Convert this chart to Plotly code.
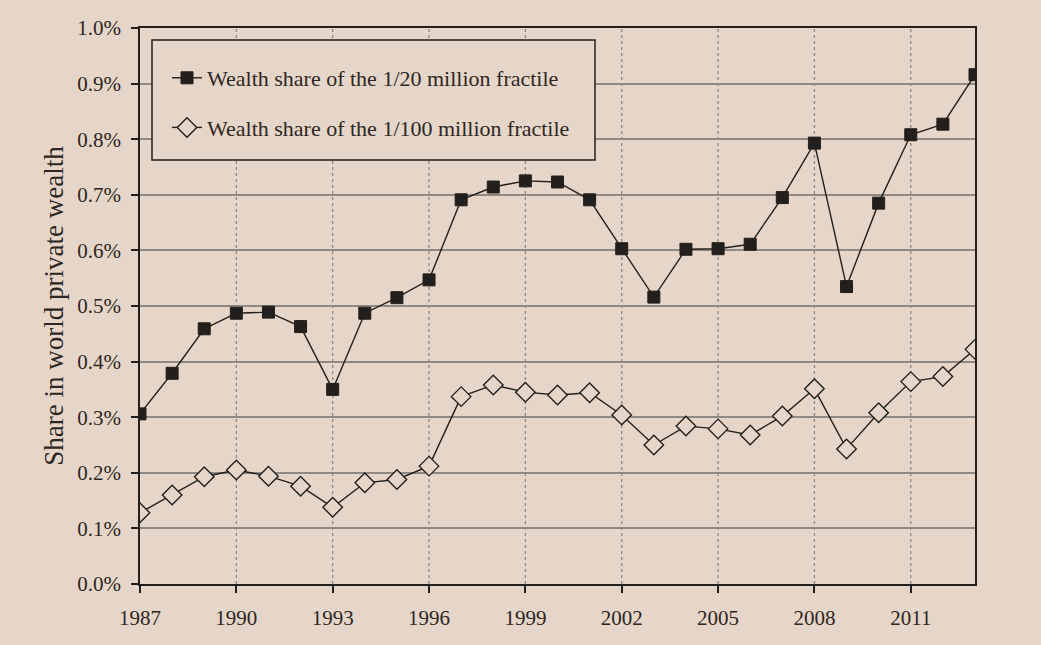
import plotly.graph_objects as go

years = list(range(1987, 2014))

share_1_20m = [0.306, 0.379, 0.459, 0.487, 0.489, 0.463, 0.350, 0.487, 0.515, 0.547,
               0.691, 0.714, 0.725, 0.723, 0.691, 0.603, 0.516, 0.602, 0.603, 0.611,
               0.695, 0.793, 0.535, 0.685, 0.808, 0.827, 0.916]

share_1_100m = [0.128, 0.160, 0.193, 0.205, 0.194, 0.176, 0.138, 0.182, 0.188, 0.212,
                0.337, 0.358, 0.345, 0.340, 0.344, 0.304, 0.250, 0.284, 0.279, 0.268,
                0.302, 0.351, 0.243, 0.308, 0.364, 0.373, 0.422]

x_ticks = [1987, 1990, 1993, 1996, 1999, 2002, 2005, 2008, 2011]
y_ticks = [0.0, 0.1, 0.2, 0.3, 0.4, 0.5, 0.6, 0.7, 0.8, 0.9, 1.0]
y_tick_labels = [f"{v:.1f}%" for v in y_ticks]

BG = "#e6d6c9"
INK = "#231f1c"
TEXT = "#2e2622"
GRID = "#8e8984"
FONT = "Liberation Serif"

fig = go.Figure()

# dotted vertical guides every three years
for yr in x_ticks[1:]:
    fig.add_shape(type="line", xref="x", yref="paper", x0=yr, x1=yr, y0=0, y1=1,
                  line=dict(color=GRID, width=1.3, dash="dot"), layer="below")

# legend frame, filled so the grid stops at its edge
fig.add_shape(type="rect", xref="paper", yref="paper",
              x0=(152 - 140) / 835, x1=(595 - 140) / 835,
              y0=(584 - 160) / 556, y1=(584 - 40) / 556,
              line=dict(color=INK, width=1.5), fillcolor=BG, layer="above")

fig.add_trace(go.Scatter(
    x=years, y=share_1_20m, mode="lines+markers",
    name="Wealth share of the 1/20 million fractile", legendgroup="a",
    line=dict(color=INK, width=1.4),
    marker=dict(symbol="square", size=12, color=INK, line=dict(color=INK, width=1)),
))
fig.add_trace(go.Scatter(
    x=years, y=share_1_100m, mode="lines+markers",
    name="Wealth share of the 1/100 million fractile", legendgroup="b",
    line=dict(color=INK, width=1.4),
    marker=dict(symbol="diamond", size=15, color=BG, line=dict(color=INK, width=1.4)),
))

fig.update_layout(
    width=1041, height=645,
    paper_bgcolor=BG, plot_bgcolor=BG,
    margin=dict(l=140, r=66, t=28, b=61),
    font=dict(family=FONT, color=TEXT, size=19),
    showlegend=True,
    legend=dict(
        x=(167 - 140) / 835, y=(584 - 57) / 556, xanchor="left", yanchor="top",
        bgcolor="rgba(0,0,0,0)", borderwidth=0,
        font=dict(family=FONT, size=22, color=TEXT),
        itemwidth=30, tracegroupgap=18,
    ),
    xaxis=dict(
        range=[1987, 2013], tickvals=x_ticks, ticks="outside", ticklen=7,
        tickwidth=1.5, tickcolor=INK, showgrid=False, zeroline=False,
        showline=True, linecolor=INK, linewidth=1.5, mirror=True,
        tickfont=dict(size=21, family=FONT, color=TEXT), ticklabelstandoff=7,
    ),
    yaxis=dict(
        range=[0, 1.0], tickvals=y_ticks, ticktext=y_tick_labels,
        ticks="outside", ticklen=7, tickwidth=1.5, tickcolor=INK,
        showgrid=True, gridcolor=GRID, gridwidth=1.5, zeroline=False,
        showline=True, linecolor=INK, linewidth=1.5, mirror=True,
        tickfont=dict(size=21, family=FONT, color=TEXT), ticklabelstandoff=6,
        title=dict(text="Share in world private wealth",
                   font=dict(size=27, family=FONT, color=TEXT), standoff=6),
    ),
)

fig.write_html("out.html")
